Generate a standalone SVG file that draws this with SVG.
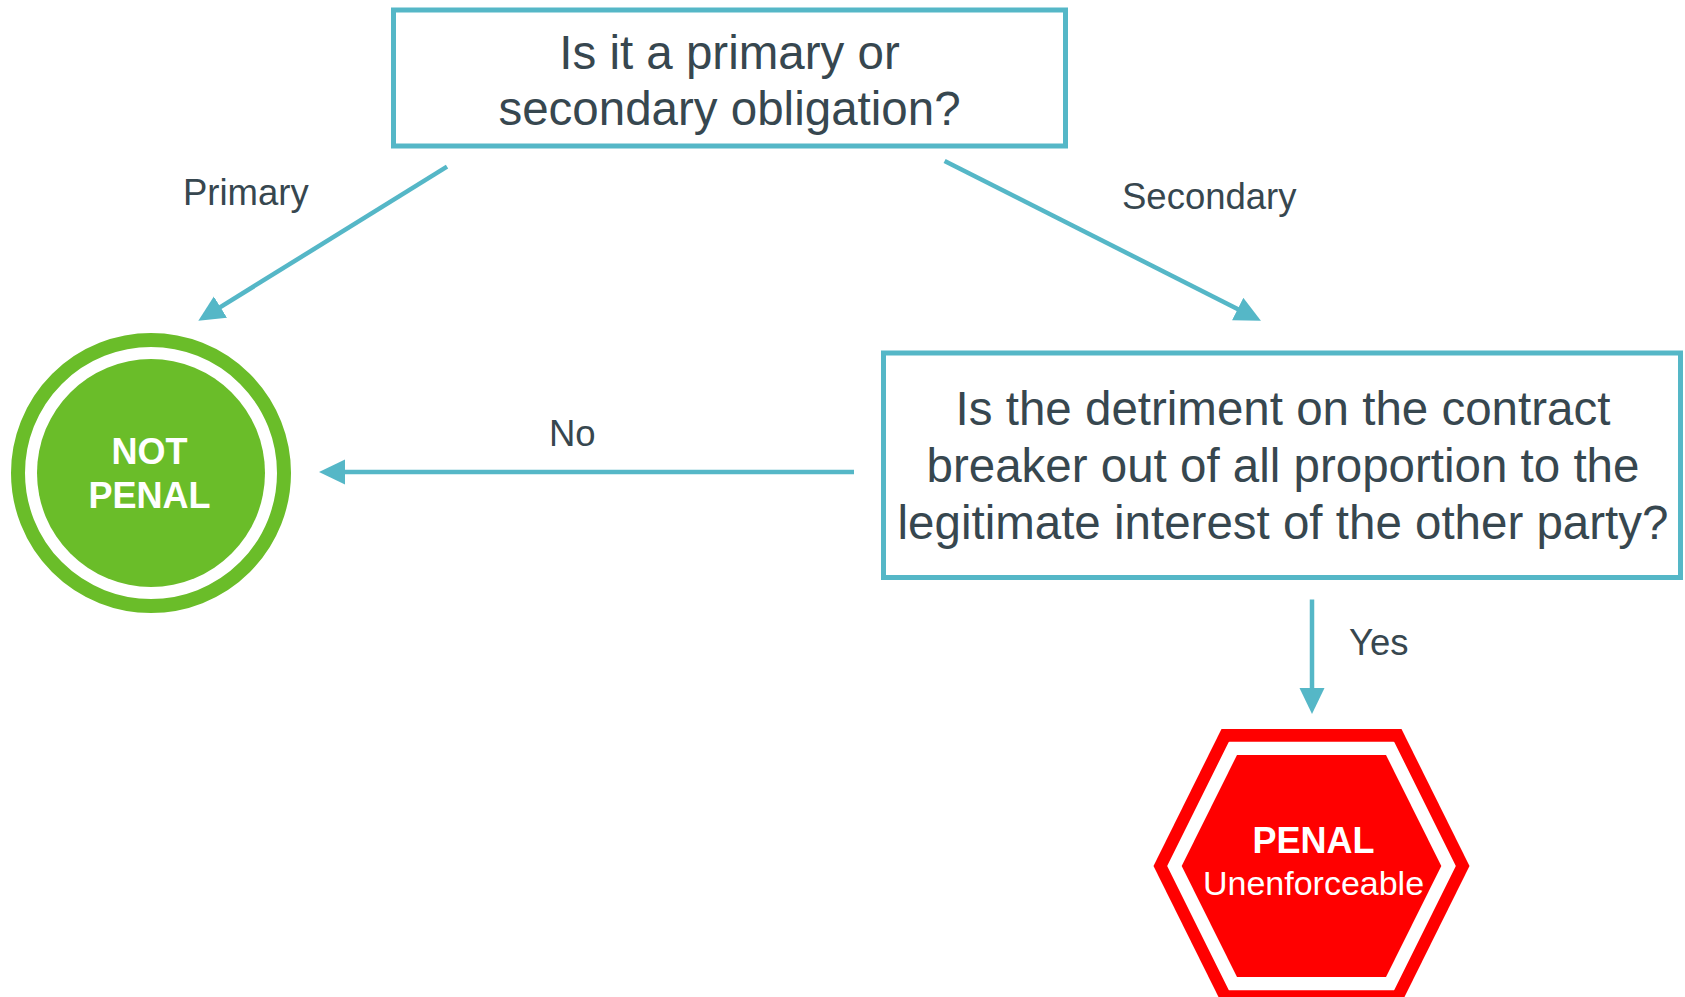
<svg xmlns="http://www.w3.org/2000/svg" width="1685" height="997" viewBox="0 0 1685 997">
<style>
.box{fill:#ffffff;stroke:#55b7c7;stroke-width:5}
.q{font-family:"Liberation Sans",Arial,sans-serif;font-size:47.5px;fill:#37474f;text-anchor:middle}
.lbl{font-family:"Liberation Sans",Arial,sans-serif;font-size:36.5px;fill:#37474f}
.conn{stroke:#55b7c7;stroke-width:4.5;fill:none}
.wb{font-family:"Liberation Sans",Arial,sans-serif;font-weight:bold;font-size:36px;fill:#ffffff;text-anchor:middle}
.wr{font-family:"Liberation Sans",Arial,sans-serif;font-size:34px;fill:#ffffff;text-anchor:middle}
</style>
<defs>
<marker id="ah" markerUnits="userSpaceOnUse" markerWidth="28" markerHeight="26" viewBox="0 0 28 26" refX="2" refY="12.5" orient="auto">
<path d="M0,0 L26,12.5 L0,25 z" fill="#55b7c7"/>
</marker>
</defs>
<rect width="1685" height="997" fill="#ffffff"/>
<g id="q1">
<rect class="box" x="393.5" y="10" width="672" height="136"/>
<text class="q" x="729.5" y="68.5">Is it a primary or</text>
<text class="q" x="729.5" y="125">secondary obligation?</text>
</g>
<g id="q2">
<rect class="box" x="883.5" y="353" width="797" height="224.5"/>
<text class="q" x="1283" y="425">Is the detriment on the contract</text>
<text class="q" x="1283" y="482">breaker out of all proportion to the</text>
<text class="q" x="1283" y="538.5">legitimate interest of the other party?</text>
</g>
<g id="notpenal">
<circle cx="151" cy="473" r="133" fill="none" stroke="#6abd29" stroke-width="14"/>
<circle cx="151" cy="473" r="114" fill="#6abd29"/>
<text class="wb" x="149.5" y="463.5">NOT</text>
<text class="wb" x="149.5" y="507.5">PENAL</text>
</g>
<g id="penal">
<polygon points="1153.5,866 1221.5,729 1401.5,729 1469.5,866 1401.5,1003 1221.5,1003" fill="#ff0000"/>
<polygon points="1168.3,866 1229.5,742.7 1393.5,742.7 1454.7,866 1393.5,989.3 1229.5,989.3" fill="#ffffff" stroke="#ffffff" stroke-width="2" stroke-linejoin="round"/>
<polygon points="1181.7,866 1237,755 1386,755 1441.3,866 1386,977 1237,977" fill="#ff0000"/>
<text class="wb" x="1313.5" y="852.5">PENAL</text>
<text class="wr" x="1313.5" y="894.5">Unenforceable</text>
</g>
<g id="connectors">
<line class="conn" x1="447" y1="166.6" x2="218.7" y2="308.1" marker-end="url(#ah)"/>
<line class="conn" x1="944.6" y1="161" x2="1239.5" y2="309.9" marker-end="url(#ah)"/>
<line class="conn" x1="854" y1="472" x2="343" y2="472" marker-end="url(#ah)"/>
<line class="conn" x1="1312" y1="599.5" x2="1312" y2="690" marker-end="url(#ah)"/>
</g>
<g id="labels">
<text class="lbl" x="183" y="205">Primary</text>
<text class="lbl" x="1122" y="208.5">Secondary</text>
<text class="lbl" x="549" y="446">No</text>
<text class="lbl" x="1349" y="654.5">Yes</text>
</g>
</svg>
